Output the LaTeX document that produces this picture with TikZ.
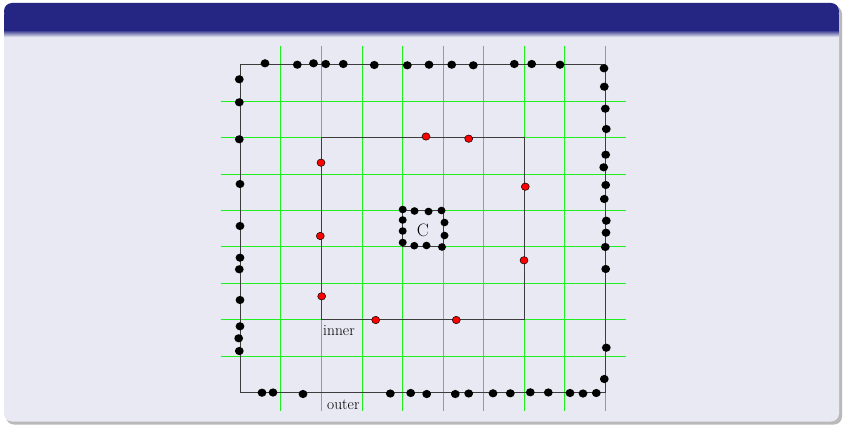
\documentclass[tikz,border=0pt]{standalone}
\usetikzlibrary{calc}
\definecolor{titlebg}{RGB}{37,38,132}
\definecolor{bodybg}{RGB}{233,233,243}
\definecolor{edgegray}{RGB}{60,60,60}
\definecolor{gridgreen}{RGB}{30,240,30}
\tikzset{
  gridline/.style={gridgreen, line width=1.5pt},
  edgeline/.style={edgegray, line width=1.1pt},
  bdot/.style={fill=black},
  rdot/.style={fill=red, draw=black, line width=0.5pt},
  lbl/.style={inner sep=0pt, font=\fontsize{15.5}{18}\selectfont},
}
\begin{document}
\begin{tikzpicture}[x=1pt,y=-1pt]
\useasboundingbox (0,0) rectangle (843,425);
% beamer block frame
\fill[gray!55, rounded corners=8pt] (6,6) rectangle (842,424.5);
\fill[bodybg, rounded corners=8pt] (4,3) rectangle (839,421.5);
\fill[titlebg, rounded corners=8pt] (4,3) rectangle (839,20);
\fill[titlebg] (4,14) rectangle (839,32);
\shade[top color=titlebg!70!bodybg, bottom color=bodybg] (4,32) rectangle (839,37);
% grid
\foreach \gx in {280.5,321.5,362.5,402.5,443.5,483.5,524.5,564.5,605.5}
  \draw[gridline] (\gx,46.5) -- (\gx,410.5);
\foreach \gy in {101.5,137.5,174.5,210.5,246.5,283.5,319.5,356.5}
  \draw[gridline] (220.5,\gy) -- (625.5,\gy);
% rectangles in grid units
\begin{scope}[shift={(240.5pt,-392.7pt)}, x=40.52pt, y=36.5pt]
  \draw[edgeline] (0,0) rectangle (9,9);
  \draw[edgeline] (2,2) rectangle (7,7);
  \draw[edgeline] (4,4) rectangle (5,5);
  \coordinate (innerSW) at (2,2);
  \coordinate (outerSW) at (0,0);
\end{scope}
% outer dots
\foreach \p in {(265,63.3),(297.3,64.7),(313.5,63.3),(325.7,64),(343.3,64),(374.3,65),(407.3,65.3),(429,64.7),(451.7,64.7),(473.3,65.3),(514.3,64),(531.7,64),(560,64.7),
  (604,68.3),(604.3,86.7),(605.3,108.7),(606.3,129),(605.7,154.7),(603.7,167.3),(605.7,185),(604.3,199),(606.3,220.7),(606,232.7),(605.3,247),(605.7,269),(606.3,347.7),(604.3,379),
  (262,392.7),(273,392.5),(303,394),(390.3,393.5),(410.7,393),(426.7,394),(455.3,394),(468.7,393.5),(493,393.3),(510.3,393.3),(530.3,392.3),(548.3,392.5),(570,393),(583,393.5),(596.3,393),
  (239.3,79.3),(239.3,102.3),(239.3,139.3),(240,184),(240,226),(240,257.7),(239.3,269.3),(240,300),(240,326.3),(238.7,338.3),(239.3,351)}
  \fill[bdot] \p ellipse [x radius=4.4pt, y radius=4.1pt];
% box dots
\foreach \p in {(402.7,209.5),(414.5,211),(428.5,211.5),(441.5,210.5),(402.7,220),(402.7,231),(402.7,242.5),(414.3,245.7),(426.5,245.5),(442,247),(444.5,222.5),(444.5,235.5)}
  \fill[bdot] \p ellipse [x radius=4pt, y radius=3.8pt];
% red dots
\foreach \p in {(321,162.7),(426,136.5),(468.7,138.7),(525.3,186.7),(524,260.3),(456.3,320),(375.7,320),(321.7,296.3),(320.3,236)}
  \draw[rdot] \p ellipse [x radius=4pt, y radius=3.7pt];
% labels
\node[lbl, anchor=base west] (innerlbl) at ($(innerSW)+(1.5,15.8)$) {inner};
\node[lbl, anchor=base west] (outerlbl) at ($(outerSW)+(86.5,16.3)$) {outer};
\node[inner sep=0pt, font=\fontsize{18}{20}\selectfont, anchor=base] (clbl) at (422.8,236.2) {C};
\end{tikzpicture}
\end{document}
